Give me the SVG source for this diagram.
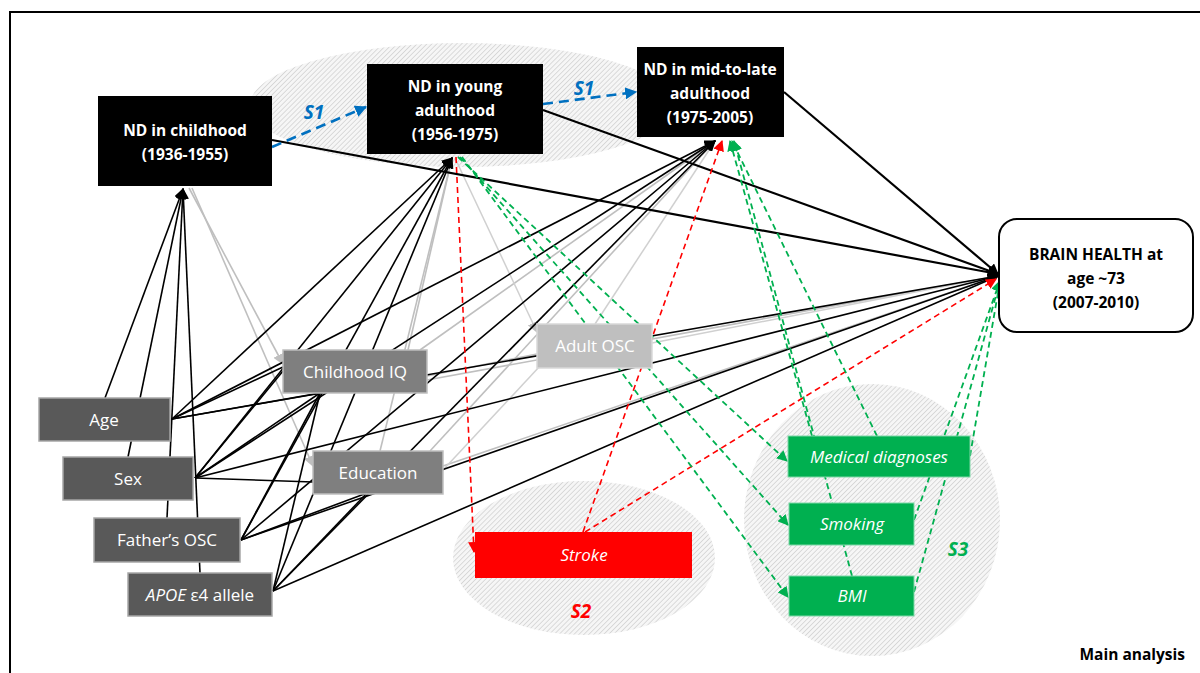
<svg xmlns="http://www.w3.org/2000/svg" width="1200" height="673" viewBox="0 0 1200 673">
<style>
.t{font-family:"Open Sans","Liberation Sans",sans-serif;text-anchor:middle}
.nd{font-size:15.5px;font-weight:bold;fill:#fff}
.bh{font-size:15.5px;font-weight:bold;fill:#000}
.w{font-size:17px;fill:#fff}
.it{font-style:italic}
.lab{font-size:19px;font-weight:bold;font-style:italic}
.blk{stroke:#000;stroke-width:1.6;fill:none}
.thk{stroke:#000;stroke-width:2.2;fill:none}
.gry{stroke:#bfbfbf;stroke-width:1.6;fill:none}
.lgr{stroke:#d0d0d0;stroke-width:1.5;fill:none}
.red{stroke:#ff0000;stroke-width:1.6;stroke-dasharray:6 4;fill:none}
.grn{stroke:#00b050;stroke-width:1.8;stroke-dasharray:6 4;fill:none}
.blu{stroke:#0070c0;stroke-width:2.6;stroke-dasharray:10 6;fill:none}
</style>
<defs>
<pattern id="hatch" width="3.5" height="3.5" patternUnits="userSpaceOnUse" patternTransform="rotate(45)">
<rect width="3.5" height="3.5" fill="#f6f6f6"/>
<line x1="0" y1="0" x2="0" y2="3.5" stroke="#c8c8c8" stroke-width="1.2"/>
</pattern>
<marker id="ab" viewBox="0 0 10 10" refX="9" refY="5" markerWidth="11" markerHeight="11" markerUnits="userSpaceOnUse" orient="auto"><path d="M0,0 L10,5 L0,10 z" fill="#000"/></marker>
<marker id="ag" viewBox="0 0 10 10" refX="9" refY="5" markerWidth="11" markerHeight="11" markerUnits="userSpaceOnUse" orient="auto"><path d="M0,0 L10,5 L0,10 z" fill="#bfbfbf"/></marker>
<marker id="ar" viewBox="0 0 10 10" refX="9" refY="5" markerWidth="11" markerHeight="11" markerUnits="userSpaceOnUse" orient="auto"><path d="M0,0 L10,5 L0,10 z" fill="#ff0000"/></marker>
<marker id="agr" viewBox="0 0 10 10" refX="9" refY="5" markerWidth="11" markerHeight="11" markerUnits="userSpaceOnUse" orient="auto"><path d="M0,0 L10,5 L0,10 z" fill="#00b050"/></marker>
<marker id="abl" viewBox="0 0 10 10" refX="9" refY="5" markerWidth="12" markerHeight="12" markerUnits="userSpaceOnUse" orient="auto"><path d="M0,0 L10,5 L0,10 z" fill="#0070c0"/></marker>
</defs>
<rect width="1200" height="673" fill="#fff"/>
<path d="M10,673 V12 H1200" fill="none" stroke="#000" stroke-width="2"/>

<g id="groups">
<ellipse cx="462" cy="105" rx="212" ry="62" fill="url(#hatch)"/>
<ellipse cx="584" cy="558" rx="131" ry="77" fill="url(#hatch)"/>
<ellipse cx="872" cy="520" rx="128" ry="136" fill="url(#hatch)"/>
</g>

<g id="connectors">
<line class="blk" x1="105" y1="398" x2="183" y2="189" marker-end="url(#ab)"/>
<line class="blk" x1="128" y1="457" x2="183" y2="189" marker-end="url(#ab)"/>
<line class="blk" x1="167" y1="518" x2="183" y2="189" marker-end="url(#ab)"/>
<line class="blk" x1="200" y1="573" x2="183" y2="189" marker-end="url(#ab)"/>
<line class="gry" x1="189" y1="188" x2="283" y2="364" marker-end="url(#ag)"/>
<line class="gry" x1="192" y1="188" x2="313" y2="466" marker-end="url(#ag)"/>
<line class="blk" x1="172" y1="419" x2="283" y2="367"/>
<line class="blk" x1="195" y1="478" x2="283" y2="371"/>
<line class="blk" x1="172" y1="419" x2="320" y2="393"/>
<line class="blk" x1="195" y1="478" x2="320" y2="393"/>
<line class="blk" x1="241" y1="540" x2="320" y2="393"/>
<line class="blk" x1="273" y1="591" x2="320" y2="393"/>
<line class="blk" x1="241" y1="540" x2="367" y2="493"/>
<line class="blk" x1="273" y1="591" x2="367" y2="493"/>
<line class="blk" x1="195" y1="478" x2="313" y2="482"/>
<line class="gry" x1="408" y1="350" x2="452" y2="158"/>
<line class="gry" x1="380" y1="451" x2="452" y2="158"/>
<line class="gry" x1="420" y1="350" x2="715" y2="141"/>
<line class="gry" x1="430" y1="451" x2="715" y2="141"/>
<line class="gry" x1="427" y1="376" x2="537" y2="354"/>
<line class="gry" x1="427" y1="380" x2="998" y2="276"/>
<line class="gry" x1="443" y1="466" x2="998" y2="276"/>
<line class="lgr" x1="443" y1="470" x2="540" y2="366"/>
<line class="lgr" x1="455" y1="158" x2="537" y2="332" marker-end="url(#ag)"/>
<line class="lgr" x1="595" y1="324" x2="715" y2="141"/>
<line class="lgr" x1="652" y1="343" x2="998" y2="276"/>
<line class="blk" x1="172" y1="419" x2="452" y2="158" marker-end="url(#ab)"/>
<line class="blk" x1="195" y1="478" x2="452" y2="158" marker-end="url(#ab)"/>
<line class="blk" x1="241" y1="540" x2="452" y2="158" marker-end="url(#ab)"/>
<line class="blk" x1="273" y1="591" x2="452" y2="158" marker-end="url(#ab)"/>
<line class="blk" x1="172" y1="419" x2="715" y2="141" marker-end="url(#ab)"/>
<line class="blk" x1="195" y1="478" x2="715" y2="141" marker-end="url(#ab)"/>
<line class="blk" x1="241" y1="540" x2="715" y2="141" marker-end="url(#ab)"/>
<line class="blk" x1="273" y1="591" x2="715" y2="141" marker-end="url(#ab)"/>
<line class="blk" x1="172" y1="419" x2="998" y2="276" marker-end="url(#ab)"/>
<line class="blk" x1="195" y1="478" x2="998" y2="276" marker-end="url(#ab)"/>
<line class="blk" x1="241" y1="540" x2="998" y2="276" marker-end="url(#ab)"/>
<line class="blk" x1="273" y1="591" x2="998" y2="276" marker-end="url(#ab)"/>
<line class="thk" x1="272" y1="140" x2="998" y2="274" marker-end="url(#ab)"/>
<line class="thk" x1="543" y1="110" x2="998" y2="274" marker-end="url(#ab)"/>
<line class="thk" x1="784" y1="92" x2="998" y2="274" marker-end="url(#ab)"/>
<line class="blu" x1="272" y1="147" x2="366" y2="107" marker-end="url(#abl)"/>
<line class="blu" x1="543" y1="104" x2="636" y2="92" marker-end="url(#abl)"/>
<line class="red" x1="456" y1="157" x2="474" y2="552" marker-end="url(#ar)"/>
<line class="red" x1="583" y1="532" x2="722" y2="141" marker-end="url(#ar)"/>
<line class="red" x1="585" y1="532" x2="996" y2="279" marker-end="url(#ar)"/>
<line class="grn" x1="458" y1="157" x2="787" y2="461" marker-end="url(#agr)"/>
<line class="grn" x1="460" y1="157" x2="788" y2="525" marker-end="url(#agr)"/>
<line class="grn" x1="462" y1="157" x2="788" y2="597" marker-end="url(#agr)"/>
<line class="grn" x1="812" y1="436" x2="730" y2="141" marker-end="url(#agr)"/>
<line class="grn" x1="877" y1="436" x2="732" y2="141" marker-end="url(#agr)"/>
<line class="grn" x1="852" y1="576" x2="734" y2="141" marker-end="url(#agr)"/>
<line class="grn" x1="970" y1="456" x2="1000" y2="281" marker-end="url(#agr)"/>
<line class="grn" x1="914" y1="520" x2="1000" y2="281" marker-end="url(#agr)"/>
<line class="grn" x1="914" y1="592" x2="1000" y2="281" marker-end="url(#agr)"/>
</g>

<g id="nd-childhood">
<rect x="98" y="96" width="174" height="90" fill="#000"/>
<text class="t nd" x="185" y="136">ND in childhood</text>
<text class="t nd" x="185" y="160">(1936-1955)</text>
</g>
<g id="nd-young">
<rect x="367" y="64" width="176" height="90" fill="#000"/>
<text class="t nd" x="455" y="92">ND in young</text>
<text class="t nd" x="455" y="116">adulthood</text>
<text class="t nd" x="455" y="140">(1956-1975)</text>
</g>
<g id="nd-mid">
<rect x="637" y="47" width="147" height="90" fill="#000"/>
<text class="t nd" x="710" y="75">ND in mid-to-late</text>
<text class="t nd" x="710" y="99">adulthood</text>
<text class="t nd" x="710" y="123">(1975-2005)</text>
</g>
<g id="brain-health">
<rect x="999" y="219" width="194" height="113" rx="18" fill="#fff" stroke="#000" stroke-width="2"/>
<text class="t bh" x="1096" y="260">BRAIN HEALTH at</text>
<text class="t bh" x="1096" y="284">age ~73</text>
<text class="t bh" x="1096" y="308">(2007-2010)</text>
</g>
<g id="age">
<rect x="39" y="398" width="131" height="43" fill="#595959" stroke="#a6a6a6" stroke-width="1.5"/>
<text class="t w" x="104" y="426">Age</text>
</g>
<g id="sex">
<rect x="63" y="457" width="130" height="43" fill="#595959" stroke="#a6a6a6" stroke-width="1.5"/>
<text class="t w" x="128" y="485">Sex</text>
</g>
<g id="fathers-osc">
<rect x="94" y="518" width="146" height="44" fill="#595959" stroke="#a6a6a6" stroke-width="1.5"/>
<text class="t w" x="167" y="546">Father’s OSC</text>
</g>
<g id="apoe">
<rect x="128" y="573" width="144" height="43" fill="#595959" stroke="#a6a6a6" stroke-width="1.5"/>
<text class="t w" x="200" y="601"><tspan font-style="italic">APOE</tspan> ε4 allele</text>
</g>
<g id="childhood-iq">
<rect x="283" y="350" width="144" height="43" fill="#7f7f7f" stroke="#bfbfbf" stroke-width="1.5"/>
<text class="t w" x="355" y="378">Childhood IQ</text>
</g>
<g id="education">
<rect x="313" y="451" width="130" height="43" fill="#7f7f7f" stroke="#bfbfbf" stroke-width="1.5"/>
<text class="t w" x="378" y="479">Education</text>
</g>
<g id="adult-osc">
<rect x="537" y="324" width="115" height="44" fill="#bfbfbf" stroke="#d9d9d9" stroke-width="1.5"/>
<text class="t w" x="595" y="352">Adult OSC</text>
</g>
<g id="stroke">
<rect x="475" y="532" width="217" height="46" fill="#ff0000"/>
<text class="t w it" x="584" y="561">Stroke</text>
</g>
<g id="medical">
<rect x="788" y="436" width="182" height="41" fill="#00b050" stroke="#7fd7a7" stroke-width="1"/>
<text class="t w it" x="879" y="463">Medical diagnoses</text>
</g>
<g id="smoking">
<rect x="789" y="503" width="125" height="42" fill="#00b050" stroke="#7fd7a7" stroke-width="1"/>
<text class="t w it" x="852" y="530">Smoking</text>
</g>
<g id="bmi">
<rect x="789" y="576" width="125" height="40" fill="#00b050" stroke="#7fd7a7" stroke-width="1"/>
<text class="t w it" x="852" y="602">BMI</text>
</g>

<g id="labels">
<text class="t lab" x="314" y="119" fill="#0070c0">S1</text>
<text class="t lab" x="584" y="95" fill="#0070c0">S1</text>
<text class="t lab" x="581" y="618" fill="#ff0000">S2</text>
<text class="t lab" x="958" y="556" fill="#00b050">S3</text>
<text class="t" x="1185" y="660" style="text-anchor:end;font-size:15.5px;font-weight:bold" fill="#000">Main analysis</text>
</g>
</svg>
